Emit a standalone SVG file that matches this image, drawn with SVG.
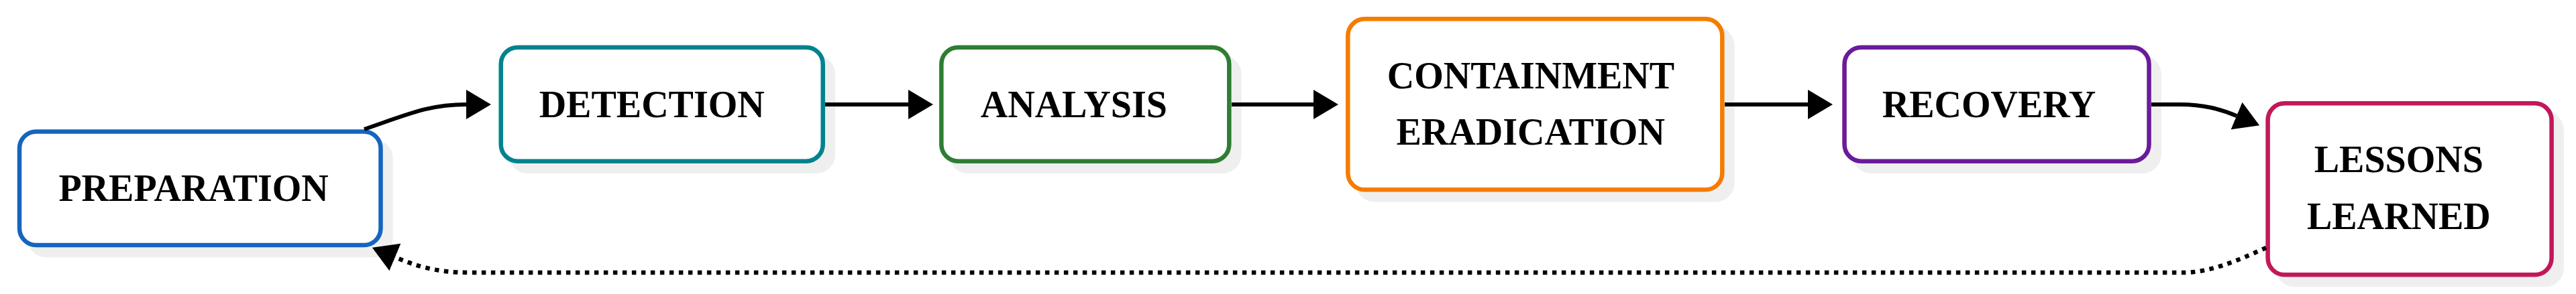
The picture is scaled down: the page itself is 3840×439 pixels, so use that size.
<svg xmlns="http://www.w3.org/2000/svg" width="3840" height="439" viewBox="0 0 3840 439">
<style>
.shadow{fill:#efefef;stroke:#efefef;stroke-width:6.5}
.box{fill:#ffffff;stroke-width:6.5}
.lbl{font-family:"Liberation Serif","Times New Roman",serif;font-weight:bold;font-size:56px;fill:#000;text-anchor:middle}
.conn{fill:none;stroke:#000;stroke-width:6}
.dot{stroke-dasharray:6.5 7.5;stroke-width:6.5}
</style>
<defs>
<marker id="ah" markerUnits="userSpaceOnUse" viewBox="0 0 37 44" refX="0" refY="22" markerWidth="37" markerHeight="44" orient="auto">
<path d="M0,0 L37,22 L0,44 Z" fill="#000"/>
</marker>
</defs>
<rect width="3840" height="439" fill="#ffffff"/>
<g id="node-preparation">
<rect class="shadow" x="44" y="211.5" width="538.5" height="169.5" rx="25"/>
<rect class="box" x="29" y="196.5" width="538.5" height="169.5" rx="25" stroke="#1565C0"/>
<text class="lbl" x="288.6" y="300">PREPARATION</text>
</g>
<g id="node-detection">
<rect class="shadow" x="761.7" y="85.7" width="480" height="170" rx="25"/>
<rect class="box" x="746.7" y="70.7" width="480" height="170" rx="25" stroke="#00838F"/>
<text class="lbl" x="971.7" y="175">DETECTION</text>
</g>
<g id="node-analysis">
<rect class="shadow" x="1418.3" y="85.7" width="429" height="170" rx="25"/>
<rect class="box" x="1403.3" y="70.7" width="429" height="170" rx="25" stroke="#2E7D32"/>
<text class="lbl" x="1600.8" y="175">ANALYSIS</text>
</g>
<g id="node-containment">
<rect class="shadow" x="2024.3" y="43.3" width="558" height="255" rx="25"/>
<rect class="box" x="2009.3" y="28.3" width="558" height="255" rx="25" stroke="#F57C00"/>
<text class="lbl" x="2282" y="131.7">CONTAINMENT</text>
<text class="lbl" x="2281.7" y="216">ERADICATION</text>
</g>
<g id="node-recovery">
<rect class="shadow" x="2764.5" y="85.7" width="454" height="170" rx="25"/>
<rect class="box" x="2749.5" y="70.7" width="454" height="170" rx="25" stroke="#6A1B9A"/>
<text class="lbl" x="2965" y="175">RECOVERY</text>
</g>
<g id="node-lessons">
<rect class="shadow" x="3395.6" y="169.3" width="423" height="256" rx="25"/>
<rect class="box" x="3380.6" y="154.3" width="423" height="256" rx="25" stroke="#C2185B"/>
<text class="lbl" x="3575.8" y="256.7">LESSONS</text>
<text class="lbl" x="3575.8" y="341.7">LEARNED</text>
</g>
<g id="connectors">
<path class="conn" d="M543,193 C610,170 640,156 695,156" marker-end="url(#ah)"/>
<path class="conn" d="M1230,156 L1354,156" marker-end="url(#ah)"/>
<path class="conn" d="M1836,156 L1958,156" marker-end="url(#ah)"/>
<path class="conn" d="M2571,156 L2695,156" marker-end="url(#ah)"/>
<path class="conn" d="M3207,156 L3250,156 C3285,156 3310,163 3334,173" marker-end="url(#ah)"/>
<path class="conn dot" d="M3378,370 C3350,382 3300,407 3255,407 L700,407 C650,407 620,397 589,384" marker-end="url(#ah)"/>
</g>
</svg>
